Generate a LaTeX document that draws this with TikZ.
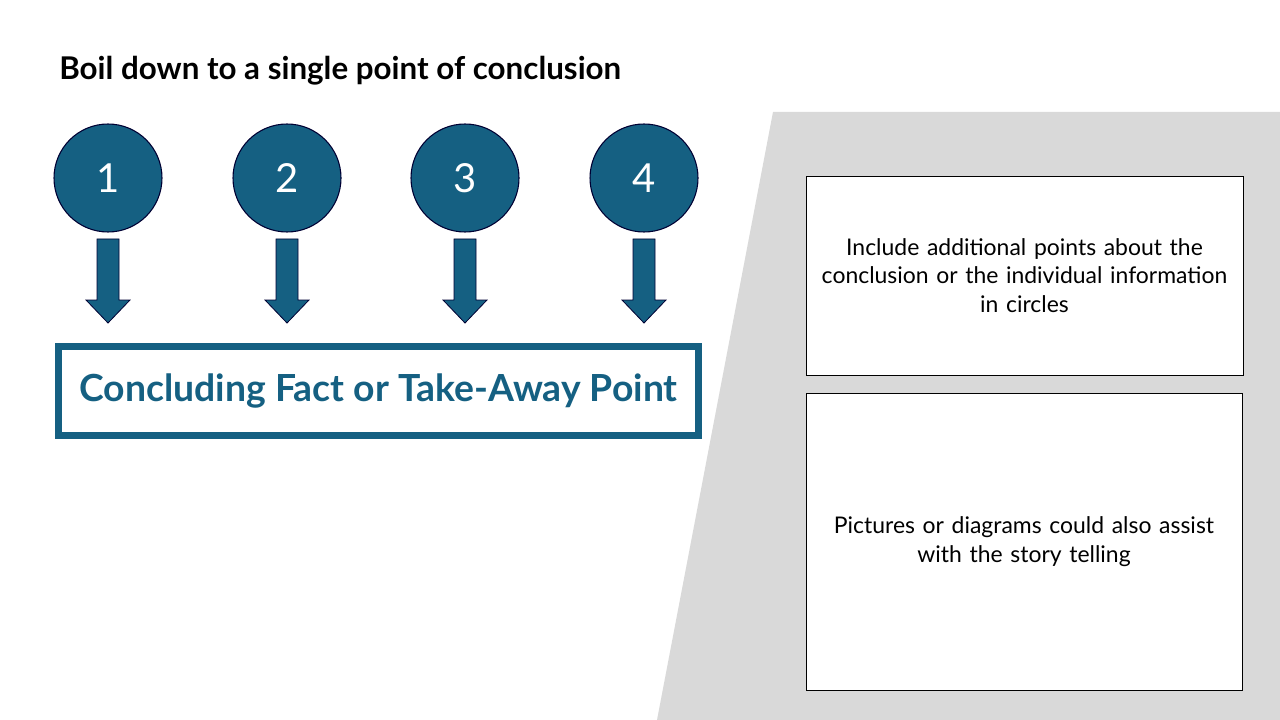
\documentclass[tikz,border=0pt]{standalone}
\usepackage{fontspec}
\setmainfont{Lato}
\begin{document}
\begin{tikzpicture}[x=0.75pt,y=-0.75pt,
  circ/.style={circle,draw=black!80!blue,line width=0.8pt,fill=mainblue,minimum size=108*0.75pt,inner sep=0pt,text=white,font=\fontsize{30}{34}\selectfont},
  infobox/.style={draw=black,line width=0.6pt,fill=white,align=center,font=\fontsize{17.2}{21.5}\selectfont,inner sep=4pt},
  dnarrow/.style={fill=mainblue,draw=black!80!blue,line width=0.6pt}]
\definecolor{mainblue}{HTML}{156082}
\definecolor{bggray}{HTML}{D9D9D9}
\useasboundingbox (0,0) rectangle (1280,720);
\fill[white] (0,0) rectangle (1280,720);
\fill[bggray] (773,112) -- (1280,112) -- (1280,720) -- (657,720) -- cycle;
\node[anchor=base west,inner sep=0pt,font=\bfseries\fontsize{23.5}{28}\selectfont] (title) at (59,80) {Boil down to a single point of conclusion};
\foreach \i/\x in {1/108,2/287,3/465,4/644}{
  \node[circ] (c\i) at (\x,178) {\i};
  \draw[dnarrow] (\x-11,239) -- (\x+11,239) -- (\x+11,300) -- (\x+22,300) -- (\x,323) -- (\x-22,300) -- (\x-11,300) -- cycle;
}
\node[draw=mainblue,line width=5.2pt,minimum width=640*0.75pt,minimum height=89*0.75pt,text=mainblue,font=\bfseries\fontsize{28}{32}\selectfont] (concl) at (378.5,391) {Concluding Fact or Take-Away Point};
\node[infobox,minimum width=437*0.75pt,minimum height=199*0.75pt,text width=425*0.75pt] (box1) at (1024.5,275.5) {Include additional points about the\\conclusion or the individual information\\in circles};
\node[infobox,minimum width=436*0.75pt,minimum height=297*0.75pt,text width=425*0.75pt] (box2) at (1024,541.5) {Pictures or diagrams could also assist\\with the story telling};
\end{tikzpicture}
\end{document}
